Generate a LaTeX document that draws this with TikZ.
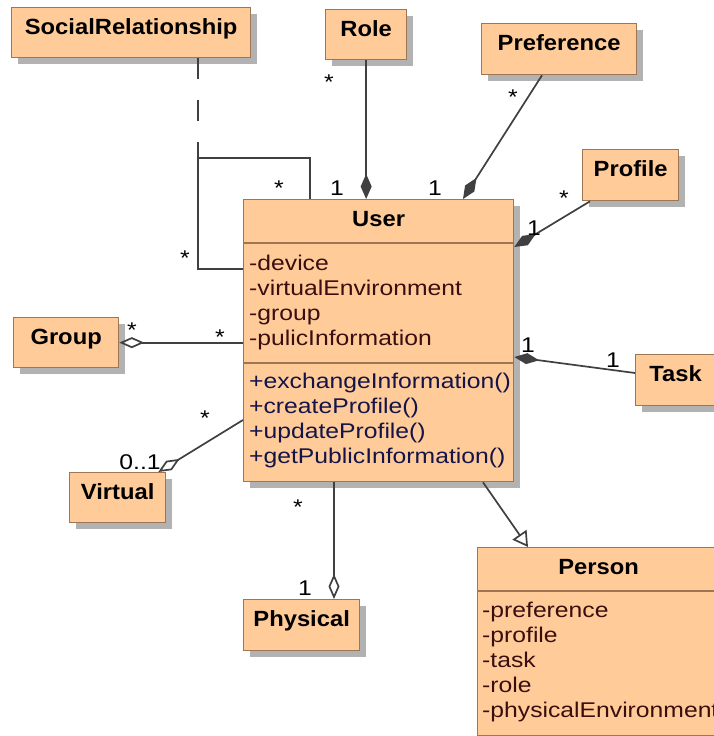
\documentclass[tikz,border=0pt]{standalone}
\usepackage{fontspec}
\usetikzlibrary{arrows.meta,calc,shadows}

\newfontfamily\umlbody{Liberation Sans}[FakeStretch=1.16]
\newfontfamily\umlhead{Liberation Sans}[FakeStretch=1.08]

\definecolor{umlfill}{RGB}{255,204,153}
\definecolor{umlborder}{RGB}{158,118,84}
\definecolor{umlshadow}{RGB}{178,178,178}
\definecolor{conncol}{RGB}{64,64,64}
\definecolor{attrcol}{RGB}{58,14,14}
\definecolor{opcol}{RGB}{20,20,72}

\tikzset{
  umlbox/.style={rectangle, draw=umlborder, fill=umlfill, line width=1.3pt,
    inner sep=0pt, anchor=north west,
    general shadow={fill=umlshadow, shadow xshift=6.5pt, shadow yshift=-6.5pt}},
  boxline/.style={draw=umlborder, line width=1.3pt},
  classname/.style={font=\umlhead\bfseries\fontsize{22}{26}\selectfont,
    anchor=base, inner sep=0pt},
  attr/.style={font=\umlbody\fontsize{21.3}{25}\selectfont, text=attrcol,
    anchor=base west, inner sep=0pt},
  oper/.style={attr, text=opcol},
  mult/.style={font=\umlbody\fontsize{21.3}{25}\selectfont, anchor=base, inner sep=0pt},
  conn/.style={draw=conncol, line width=1.7pt},
  compo/.tip={Diamond[fill=conncol, length=25pt, width=11pt]},
  aggr/.tip={Diamond[open, length=25pt, width=11pt]},
  gen/.tip={Triangle[open, length=15pt, width=17pt]},
}

\begin{document}
\begin{tikzpicture}[x=1pt, y=-1pt]
\clip (0,0) rectangle (714,736);
\fill[white] (0,0) rectangle (714,736);

% ---- class boxes ----
\node[umlbox, minimum width=239pt, minimum height=50pt] (soc)  at (11,7) {};
\node[umlbox, minimum width=81pt,  minimum height=50pt] (role) at (325,9) {};
\node[umlbox, minimum width=155pt, minimum height=51pt] (pref) at (481,23) {};
\node[umlbox, minimum width=96pt,  minimum height=51pt] (prof) at (582,149) {};
\node[umlbox, minimum width=270pt, minimum height=282pt] (user) at (243,199) {};
\node[umlbox, minimum width=105pt, minimum height=50pt] (grp)  at (13,317) {};
\node[umlbox, minimum width=96pt,  minimum height=50pt] (virt) at (69,472) {};
\node[umlbox, minimum width=80pt,  minimum height=51pt] (task) at (635,354) {};
\node[umlbox, minimum width=116pt, minimum height=51pt] (phys) at (243,599) {};
\node[umlbox, minimum width=242pt, minimum height=188pt] (pers) at (477,547) {};

% compartments
\draw[boxline] ([yshift=-44pt]user.north west) -- ([yshift=-44pt]user.north east);
\draw[boxline] ([yshift=-164pt]user.north west) -- ([yshift=-164pt]user.north east);
\draw[boxline] ([yshift=-44pt]pers.north west) -- ([yshift=-44pt]pers.north east);

% ---- class names ----
\node[classname] (socT)  at ([yshift=-27.5pt]soc.north)  {SocialRelationship};
\node[classname] (roleT) at ([yshift=-27.5pt]role.north) {Role};
\node[classname] (prefT) at ([yshift=-27.5pt]pref.north) {Preference};
\node[classname] (profT) at ([yshift=-27.5pt]prof.north) {Profile};
\node[classname] (userT) at ([yshift=-27.5pt]user.north) {User};
\node[classname] (grpT)  at ([yshift=-27.5pt]grp.north)  {Group};
\node[classname] (virtT) at ([yshift=-27.5pt]virt.north) {Virtual};
\node[classname] (taskT) at ([yshift=-27.5pt]task.north) {Task};
\node[classname] (physT) at ([yshift=-27.5pt]phys.north) {Physical};
\node[classname] (persT) at ([yshift=-27.5pt]pers.north) {Person};

% ---- User members ----
\node[attr] (ua1) at (249,270) {-device};
\node[attr] (ua2) at (249,295) {-virtualEnvironment};
\node[attr] (ua3) at (249,320) {-group};
\node[attr] (ua4) at (249,345) {-pulicInformation};
\node[oper] (uo1) at (249,388) {+exchangeInformation()};
\node[oper] (uo2) at (249,413) {+createProfile()};
\node[oper] (uo3) at (249,438) {+updateProfile()};
\node[oper] (uo4) at (249,463) {+getPublicInformation()};

% ---- Person members ----
\node[attr] (pa1) at (482,617) {-preference};
\node[attr] (pa2) at (482,642) {-profile};
\node[attr] (pa3) at (482,667) {-task};
\node[attr] (pa4) at (482,692) {-role};
\node[attr] (pa5) at (482,717) {-physicalEnvironment};

% ---- connectors ----
% association class link and the reflexive association of User
\coordinate (assoc) at ([xshift=187pt, yshift=-100pt]soc.south west);
\draw[conn, dash pattern=on 21pt off 21pt] ([xshift=187pt]soc.south west) -- (assoc);
\draw[conn] ([xshift=67pt]user.north west) |- (assoc) |- ([yshift=-70pt]user.north west);

% compositions
\draw[conn, -compo] (role.south) -- (role.south |- user.north);
\draw[conn, -compo] ([xshift=61pt]pref.south west) -- ([xshift=220pt]user.north west);
\draw[conn, -compo] ([xshift=8pt]prof.south west) -- ([yshift=-48pt]user.north east);
\draw[conn, -compo] ([yshift=-19pt]task.north west) -- ([yshift=-158pt]user.north east);

% aggregations
\draw[conn, -aggr] (grp.east -| user.west) -- (grp.east);
\draw[conn, -aggr] ([yshift=-221pt]user.north west) -- ([xshift=-8pt]virt.north east);
\coordinate (physTop) at ([xshift=91pt]phys.north west);
\draw[conn, -aggr] (physTop |- user.south) -- (physTop);

% generalization
\draw[conn, -gen] ([xshift=240pt]user.south west) -- ([xshift=51pt]pers.north west);

% ---- multiplicities ----
\node[mult] (m1)  at (279,195)   {*};
\node[mult] (m2)  at (337,195.5) {1};
\node[mult] (m3)  at (185,265)   {*};
\node[mult] (m4)  at (329,89)    {*};
\node[mult] (m5)  at (513,104)   {*};
\node[mult] (m6)  at (435,195)   {1};
\node[mult] (m7)  at (564,205)   {*};
\node[mult] (m8)  at (534,235)   {1};
\node[mult] (m9)  at (528,352)   {1};
\node[mult] (m10) at (613,367)   {1};
\node[mult] (m11) at (132,337)   {*};
\node[mult] (m12) at (220,344)   {*};
\node[mult] (m13) at (205,425)   {*};
\node[mult] (m14) at (140,469.5) {0..1};
\node[mult] (m15) at (298,514)   {*};
\node[mult] (m16) at (305,595)   {1};
\end{tikzpicture}
\end{document}
